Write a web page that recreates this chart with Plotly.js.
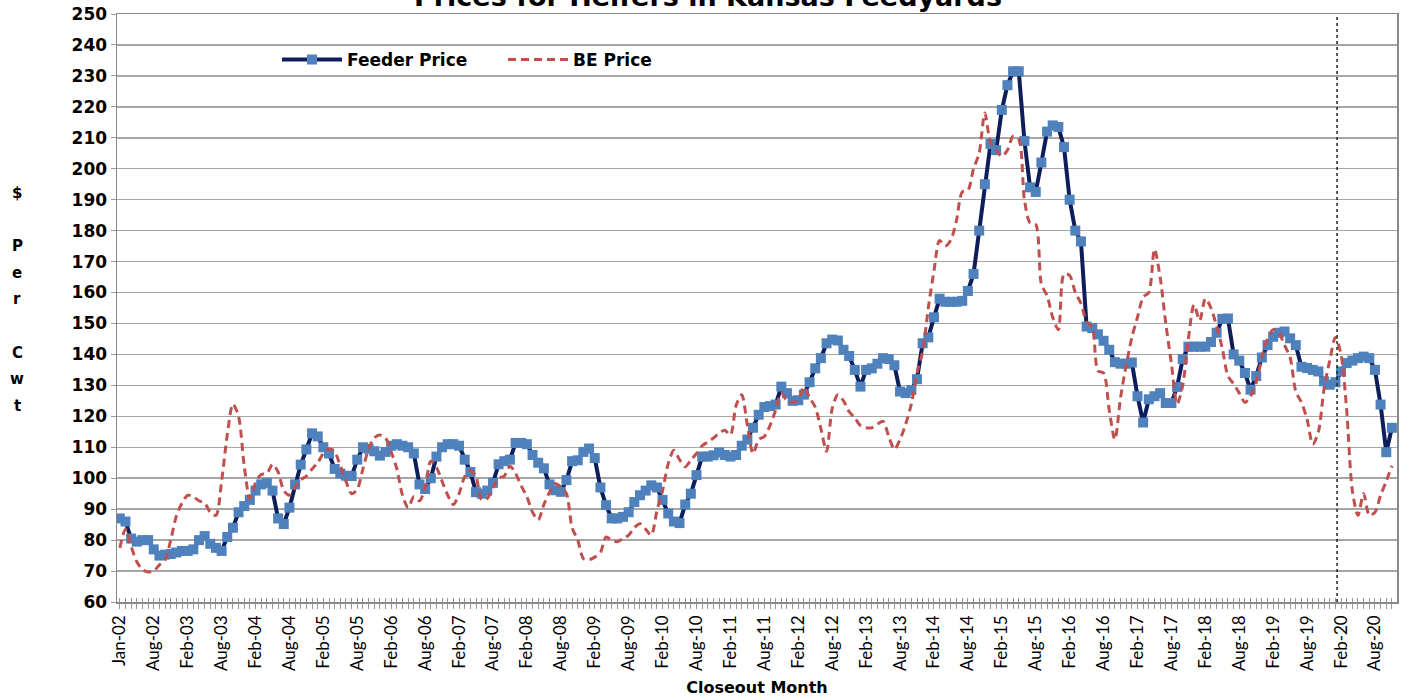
<!DOCTYPE html>
<html>
<head>
<meta charset="utf-8">
<script src="https://cdn.plot.ly/plotly-3.0.1.min.js"></script>
<style>
html,body{margin:0;padding:0;background:#ffffff;}
#chart{width:1409px;height:700px;}
</style>
</head>
<body>
<div id="chart"></div>
<script>
// ---- Data ----
const chartTitle = 'Prices for Heifers in Kansas Feedyards';
const xAxisTitle = 'Closeout Month';
const yAxisLetters = ['$', '', 'P', 'e', 'r', '', 'C', 'w', 't'];
const seriesNames = ['Feeder Price', 'BE Price'];

const tickLabels = ['Jan-02','Aug-02','Feb-03','Aug-03','Feb-04','Aug-04','Feb-05','Aug-05','Feb-06','Aug-06',
  'Feb-07','Aug-07','Feb-08','Aug-08','Feb-09','Aug-09','Feb-10','Aug-10','Feb-11','Aug-11',
  'Feb-12','Aug-12','Feb-13','Aug-13','Feb-14','Aug-14','Feb-15','Aug-15','Feb-16','Aug-16',
  'Feb-17','Aug-17','Feb-18','Aug-18','Feb-19','Aug-19','Feb-20','Aug-20'];
const labelEvery = 6;          // one tick label every 6 closeout months
const dividerMonth = 215.3;    // position of the dotted vertical divider (category index)

const feederPrice = [
  87, 86, 80.5, 79.5, 80, 80, 77, 75, 75.3, 75.5,
  76, 76.5, 76.5, 77, 80, 81.3, 78.8, 77.5, 76.5, 81,
  84, 89, 91, 93, 96, 98, 98.5, 96, 87, 85.2,
  90.5, 98, 104.4, 109.3, 114.5, 113.5, 110, 108, 103, 101.5,
  100.8, 100.7, 106, 110, 109.5, 108.7, 107.3, 108.5, 110.5, 111,
  110.5, 110, 108, 98, 96.5, 100, 107, 110, 111, 111,
  110.5, 106, 102, 95.5, 95, 96, 98.5, 104.5, 105.5, 106,
  111.4, 111.4, 111, 107.5, 105, 103.2, 98, 96.1, 95.6, 99.4,
  105.5, 105.8, 108.5, 109.6, 106.5, 97, 91.3, 87, 87, 87.5,
  89, 92.3, 94.5, 96, 97.7, 97, 93, 88.6, 86, 85.5,
  91.5, 95, 101, 107, 107, 107.4, 108.3, 107.5, 107, 107.5,
  110.5, 112.5, 116.3, 120.5, 123, 123.3, 123.8, 129.6, 127.5, 125,
  125.2, 127, 131, 135.5, 138.8, 143.6, 144.8, 144.5, 141.5, 139.5,
  135, 129.6, 135, 135.5, 137, 138.8, 138.5, 136.5, 128, 127.5,
  128.5, 132, 143.6, 145.5, 152, 158, 157, 157, 157, 157.3,
  160.5, 166, 180, 195, 208, 206, 219, 227, 231.5, 231.5,
  209, 194, 192.5, 202, 212, 214, 213.5, 207, 190, 180,
  176.5, 149, 148.5, 146.5, 144.4, 141.5, 137.5, 137, 137, 137.4,
  126.5, 118, 125.5, 126.5, 127.5, 124.3, 124.3, 129.5, 138.5, 142.5,
  142.5, 142.5, 142.5, 144, 147, 151.5, 151.6, 140, 138, 134,
  128.6, 133, 139, 143, 145.7, 147, 147.4, 145.2, 143, 136,
  135.6, 135, 134.5, 131.3, 130.2, 131, 134.5, 137.2, 138, 138.8,
  139.3, 138.8, 135, 123.8, 108.4, 116.3
];

const bePrice = [
  77.5, 83.5, 78, 73, 70.5, 69.7, 70, 72, 73.5, 80,
  87.8, 92, 94.5, 94, 92.7, 92, 89, 88, 99, 114,
  124, 120, 104, 93.5, 98.5, 101.2, 101.5, 104.5, 102, 96,
  94.5, 97, 99.5, 100.7, 103, 105, 108, 109.5, 108.5, 104,
  99, 95, 96.5, 103, 109.5, 113, 114, 113, 108.5, 103,
  94.5, 90.5, 94, 92.7, 97, 105.5, 103.5, 99, 94.5, 91.5,
  95, 100.5, 102.5, 100.5, 93, 93.5, 97, 100, 100.7, 103.9,
  101.5, 97.5, 94, 89, 86.5, 91.5, 95.5, 98.3, 97.2, 95,
  84, 80, 74, 73.7, 74.5, 76, 81, 80, 79.5, 80.5,
  81.6, 84, 85.3, 83.5, 81.6, 89.5, 96, 104.7, 109, 106,
  103.7, 105.8, 108, 110.5, 111.7, 113, 114.5, 115.5, 114, 123.5,
  127, 117, 108, 112.5, 113.5, 117, 122, 127.5, 125, 124.5,
  125.4, 129.5, 126, 123, 116, 108.7, 122.5, 127, 125, 121.5,
  119.5, 117, 116.3, 116.3, 117.5, 118.4, 113.5, 109.3, 112.5, 117.5,
  124, 134, 141, 155, 167, 176.8, 175, 177, 183.5, 192.5,
  193, 200, 205, 218, 208.5, 206, 204, 206, 210.5, 209.5,
  190, 182.5, 182, 162.7, 159, 152, 148, 166, 165.5, 160,
  156.5, 150.5, 148.7, 134.7, 134, 122, 112.5, 126, 136.5, 145.5,
  152, 158.5, 160, 174, 165, 150, 137, 124, 130, 145,
  156, 151, 158, 155, 149, 142, 133, 130.5, 127.5, 124.5,
  126.5, 131, 139, 145, 148, 147, 143, 139, 128, 124.5,
  119, 111, 115, 129, 138, 145.5, 140, 122, 96, 88,
  95, 88, 89, 94.5, 99, 104
];

// ---- Build chart ----
const xIdx = feederPrice.map((_, i) => i);
const nCat = feederPrice.length;
const tickVals = xIdx.slice();
const tickText = xIdx.map(i => (i % labelEvery === 0 && tickLabels[i / labelEvery]) ? tickLabels[i / labelEvery] : '');
const xRange = [-0.5, nCat - 0.1];

const feederTrace = {
  x: xIdx, y: feederPrice, name: seriesNames[0], type: 'scatter', mode: 'lines+markers',
  line: {color: '#0E1E5B', width: 4},
  marker: {symbol: 'square', size: 10, color: '#4F81BD', line: {width: 0}}
};
const beTrace = {
  x: xIdx, y: bePrice, name: seriesNames[1], type: 'scatter', mode: 'lines',
  line: {color: '#C0504D', width: 3, dash: '8px,5px', shape: 'spline', smoothing: 0.8}
};
const innerTickTrace = {x: [], y: [], xaxis: 'x2', type: 'scatter', showlegend: false, hoverinfo: 'skip'};

const boldFont = 'DejaVu Sans, Verdana, sans-serif';

const annotations = [{
  text: chartTitle, xref: 'paper', yref: 'paper', x: 0.462, y: 1,
  xanchor: 'center', yanchor: 'bottom', yshift: 0, showarrow: false,
  font: {family: boldFont, size: 27, color: '#000', weight: 'bold'}
}];
yAxisLetters.forEach((ch, k) => {
  if (!ch) return;
  annotations.push({
    text: ch, xref: 'paper', yref: 'paper',
    x: -0.078, y: 1 - (193 - 14 + 26.6 * k) / 588,
    xanchor: 'center', yanchor: 'middle', showarrow: false,
    font: {family: boldFont, size: 15, color: '#000', weight: 'bold'}
  });
});

const layout = {
  width: 1409, height: 700,
  margin: {l: 117, r: 12, t: 14, b: 98, pad: 0},
  paper_bgcolor: '#ffffff', plot_bgcolor: '#ffffff',
  showlegend: true,
  legend: {
    orientation: 'h', x: 0.125, y: 0.922, xanchor: 'left', yanchor: 'middle',
    bgcolor: 'rgba(0,0,0,0)', itemwidth: 60, entrywidth: 151, entrywidthmode: 'pixels',
    font: {family: boldFont, size: 17, color: '#000', weight: 'bold'}, traceorder: 'normal'
  },
  xaxis: {
    range: xRange, tickmode: 'array', tickvals: tickVals, ticktext: tickText,
    tickangle: -90, ticks: 'outside', ticklen: 5, tickwidth: 1, tickcolor: '#999',
    tickfont: {family: 'Lato, sans-serif', size: 17, color: '#000'},
    showgrid: false, zeroline: false, showline: true, linecolor: '#888', linewidth: 1.5, mirror: true,
    title: {text: xAxisTitle, font: {family: boldFont, size: 16, color: '#000', weight: 'bold'}, standoff: 12}
  },
  xaxis2: {
    range: xRange, overlaying: 'x', anchor: 'y', side: 'bottom',
    tickmode: 'array', tickvals: tickVals, ticktext: tickVals.map(() => ''),
    ticks: 'inside', ticklen: 4, tickwidth: 1, tickcolor: '#999',
    showticklabels: false, showgrid: false, zeroline: false, showline: false
  },
  yaxis: {
    range: [60, 250], dtick: 10, tick0: 60, ticks: 'outside', ticklen: 5, tickcolor: '#999',
    tickfont: {family: boldFont, size: 17, color: '#000', weight: 'bold'},
    showgrid: true, gridcolor: '#A6A6A6', gridwidth: 1.5, zeroline: false,
    showline: true, linecolor: '#888', linewidth: 1.5, mirror: true
  },
  shapes: [{
    type: 'line', xref: 'x', yref: 'paper', x0: dividerMonth, x1: dividerMonth, y0: 0, y1: 1,
    line: {color: '#222', width: 1.5, dash: 'dot'}
  }],
  annotations: annotations
};

Plotly.newPlot('chart', [feederTrace, beTrace, innerTickTrace], layout, {displayModeBar: false, staticPlot: true});
</script>
</body>
</html>
